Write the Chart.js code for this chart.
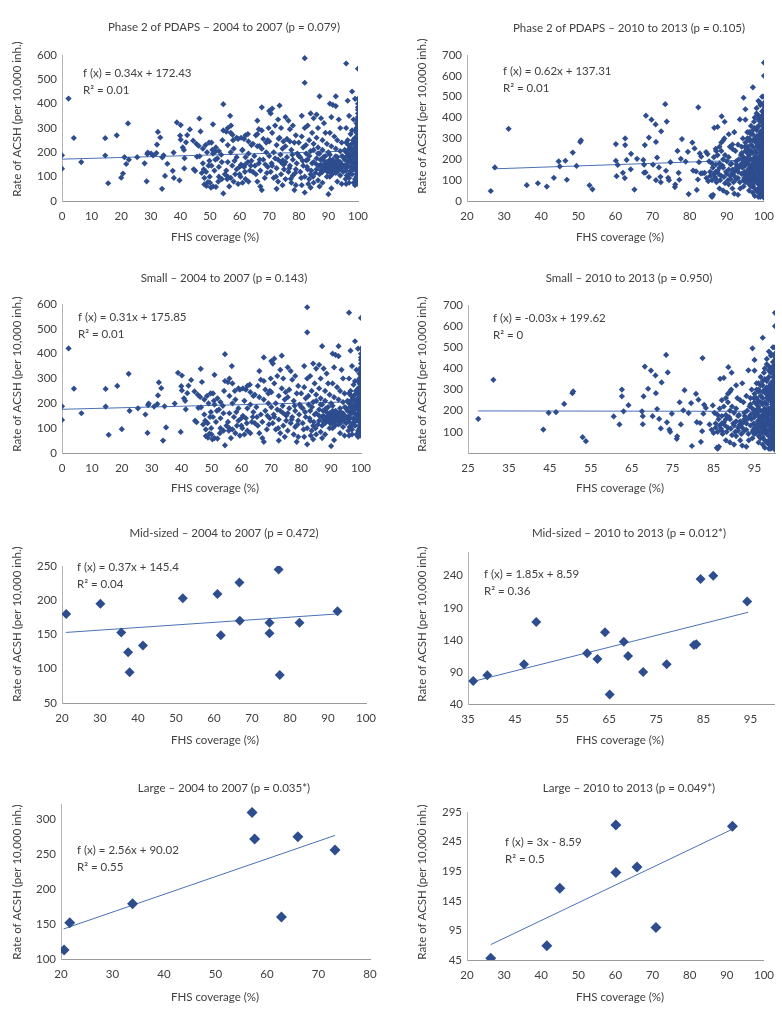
<!DOCTYPE html>
<html>
<head>
<meta charset="utf-8">
<script src="https://cdn.jsdelivr.net/npm/chart.js@4.4.0/dist/chart.umd.min.js"></script>
<style>
  body { margin: 0; background: #fff; }
  #wrap { position: relative; width: 782px; height: 1029px; }
  .panel { position: absolute; width: 391px; height: 257px; }
</style>
</head>
<body>
<div id="wrap">
  <div class="panel" style="left:0px;top:0px"><canvas id="c1" width="391" height="257"></canvas></div>
  <div class="panel" style="left:391px;top:0px"><canvas id="c2" width="391" height="257"></canvas></div>
  <div class="panel" style="left:0px;top:255px"><canvas id="c3" width="391" height="257"></canvas></div>
  <div class="panel" style="left:391px;top:255px"><canvas id="c4" width="391" height="257"></canvas></div>
  <div class="panel" style="left:0px;top:510px"><canvas id="c5" width="391" height="257"></canvas></div>
  <div class="panel" style="left:391px;top:510px"><canvas id="c6" width="391" height="257"></canvas></div>
  <div class="panel" style="left:0px;top:770px"><canvas id="c7" width="391" height="257"></canvas></div>
  <div class="panel" style="left:391px;top:770px"><canvas id="c8" width="391" height="257"></canvas></div>
</div>
<script>
// [FHS coverage %, rate of ACSH per 10,000 inh.]

// small municipalities, 2004 to 2007
const small0407 = [
  [0,188],[0,133],[2.2,421],[4,259],[6.5,160],[14.6,258],[14.6,187],[15.6,73],[18.5,270],[20,96],
  [22.3,319],[22.6,170],[25.4,180],[27.9,155],[28.6,81],[28.8,193],[29,199],[30.8,187],[31.9,197],[32.1,232],
  [32.4,284],[33.2,261],[33.8,50],[34.3,188],[34.8,103],[37.7,199],[38.8,323],[40.1,312],[39.7,85],[39.9,269],
  [40.1,252],[40.8,220],[41.2,210],[41.4,176],[41.9,241],[42.3,271],[43.2,294],[44.3,248],[44.5,130],[45,124],
  [46.4,339],[46.8,286],[45.4,235],[45.6,182],[46.5,184],[47.6,215],[47.6,155],[47.2,115],[48.1,95],[48.1,68],
  [48.8,62],[49.3,78],[49.5,145],[49,200],[48.5,230],[49.7,240],[46.2,226],[47.9,130],[49.8,165],[48.7,120],[49.9,100],
  [54.5,398],[51,315],[54.5,290],[55.5,285],[50.5,240],[52,220],[53,205],[51,195],[52.5,175],[54,160],
  [50.5,145],[53,140],[51.5,125],[53,100],[54,90],[50,75],[51,60],[52,58],[54.5,31],[55,110],
  [50.3,55],[52.8,80],[51.8,170],[53.8,190],[50.8,210],[54.2,250],
  [56.8,350],[56,300],[57,280],[59,260],[56,230],[58,215],[57,200],[59,180],[56,160],[57.5,145],
  [59,130],[56,100],[57,95],[58,80],[59.5,70],[56.5,60],[58.5,110],[60,140],[55.5,125],[57.8,250],[59.5,255],[58.3,165],[55.8,90],
  [60.5,260],[61.5,255],[63,245],[62,270],[64,230],[61,210],[63,195],[62,180],[64,165],[60.5,150],
  [61.5,140],[63.5,125],[60,110],[62,90],[63,80],[61,75],[64.5,235],[64.5,120],[62.8,275],[60.3,100],[63.8,145],[61.8,120],
  [67.5,385],[66,330],[66.5,295],[67.5,290],[65.5,270],[68,255],[69,240],[66,225],[67.5,215],[69,200],
  [65,185],[68,170],[66.5,155],[69.5,140],[67,125],[65.5,110],[68.5,95],[66,80],[67,60],[67.5,45],
  [69.5,250],[69.8,300],[68.7,150],[65.2,145],[69.2,115],[70,370],
  [71,380],[70.5,360],[73.5,392],[73,335],[72,310],[74,300],[71,280],[73.5,260],[70,245],[72.5,230],
  [74.5,215],[71.5,200],[70,185],[73,170],[74,160],[71,145],[72.5,135],[70.5,120],[74,110],[71.5,95],
  [73,80],[74.5,65],[72.5,50],[75,150],[75,130],[72,175],[70.8,155],[73.8,190],[72.3,100],[74.8,245],
  [75.5,345],[76.5,330],[78,310],[77,295],[79,270],[76,255],[78.5,240],[75.5,225],[77.5,210],[79.5,195],
  [76,180],[78,170],[75.5,160],[77,145],[79,130],[76.5,120],[78,105],[75.5,90],[77.5,75],[79,65],
  [78.5,45],[80,185],[80,240],[76.8,135],[79.3,155],[78.8,115],[77.8,190],
  [82,587],[82,486],[81,350],[84,360],[85,340],[83,310],[82,300],[84.5,280],[81,265],[83.5,250],
  [85,235],[81.5,220],[84,205],[82.5,195],[80.5,180],[83,170],[84.5,155],[81.5,145],[83,130],[80.5,120],
  [84,110],[82,100],[83.5,90],[85,75],[81,65],[84,55],[82,35],[85,160],[80.8,95],[82.8,140],
  [84.2,125],[83.6,185],[81.3,165],[85,210],[82.4,230],[84.8,100],[83.2,70],
  [87,430],[86,355],[87.5,340],[88.5,320],[86.5,300],[89,280],[86,260],[88,250],[89.5,235],[86.5,220],
  [88,210],[87,195],[89,185],[86,175],[88.5,165],[87.5,150],[89,140],[86,130],[88,120],[87,110],
  [89.5,100],[86.5,85],[88,75],[87,60],[90,200],[90,155],[90,130],[88.8,130],[87.8,135],[89.2,150],
  [86.8,145],[89.7,120],[88.3,180],[85.6,115],[87.3,170],
  [86,150],[86.5,195],[87.5,125],[88.5,145],[89.5,160],[88,140],
  [90.5,400],[91.5,395],[92.5,390],[92.5,430],[91,345],[93.5,335],[94,300],[90.5,280],[92,265],[93,250],
  [94.5,240],[91,225],[92.5,215],[94,205],[90.5,190],[93,180],[91.5,170],[94,160],[92,150],[90.5,140],
  [93.5,130],[91,125],[92.5,115],[94,105],[90.5,100],[93,80],[94.5,70],[91,52],[90,28],[95,120],
  [95,145],[95,180],[91.8,135],[90.8,160],[92.8,140],[93.7,150],[91.3,110],[92.2,125],[94.3,130],[90.2,120],
  [91.6,145],[93.2,165],[94.6,185],
  [90.5,170],[91.5,130],[92.5,160],[93.5,145],[94.5,150],[90,145],[91,150],[92,135],[93,120],[94,140],
  [96,565],[100,544],[98,450],[99,420],[100,420],[96.5,412],[100,385],[97,350],[100,345],[98.5,335],
  [99.5,320],[96,300],[98,290],[100,285],[97.5,275],[99,260],[96.5,250],[100,245],[98,235],[99.5,225],
  [97,215],[100,205],[96,200],[98.5,195],[99.5,190],[97,180],[100,175],[96.5,165],[98,160],[99,155],
  [100,150],[97.5,140],[99,130],[96,125],[100,120],[98,110],[99.5,100],[97,95],[100,85],[98.5,75],
  [96,70],[99,65],[100,100],[100,110],[100,130],[100,140],[100,170],[100,190],[100,215],[100,230],
  [100,260],[100,270],[100,300],[100,310],[100,330],[100,360],[100,400],[100,80],[97,75],[99,200],
  [99,240],[99.5,280],[98.8,180],[97.8,210],[98.3,250],[96.8,230],[95.5,140],[96.2,105],[97.3,120],[99.3,145],
  [98.6,130],[99.7,160],[100,70],[99.8,115],[97.6,165],[96.3,185],[95.8,90],
  [100,95],[100,105],[100,125],[100,135],[100,145],[100,160],[100,165],[100,180],[100,185],[100,195],
  [100,200],[100,210],[100,220],[100,225],[100,240],[100,250],[100,255],[100,280],[100,290],[100,320],
  [100,340],[100,375],[99.5,110],[99.5,135],[99.5,170],[99.5,210],[99.5,250],[99.5,300],[99,90],[99,175],
  [99,220],[99,290],[98.5,150],[98.5,215],[98,130],[98,180],[97.5,190],[97.5,230],[97,110],[97,160],
  [96.5,140],[96.5,200],[96,150],[96,240],[95.5,170],[95.5,210]
];

// mid-sized municipalities, 2004 to 2007
const mid0407 = [
  [21.1,180],[30.1,195],[35.6,153],[37.4,124],[37.8,95],[41.3,134],[51.8,203],[60.9,209],[61.8,149],
  [66.7,226],[66.8,170],[74.6,167],[74.6,152],[77,245],[77.3,91],[82.5,167],[92.5,184]
];

// large municipalities, 2004 to 2007
const large0407 = [
  [20.6,113],[21.7,152],[33.9,179],[57.1,310],[57.6,272],[62.8,160],[66,275],[73.2,256]
];

// small municipalities, 2010 to 2013
const small1013 = [
  [27.5,161],[31.2,346],[43.4,111],[44.7,190],[46.5,193],[48.5,232],[50.5,283],[50.7,291],[53,75],[53.8,56],
  [60.6,173],[62,135],[62.6,300],[62.6,268],[63,197],[64.2,226],[67.5,197],[67.7,174],[67.7,136],[67.9,268],
  [68.2,409],[69,304],[69.7,390],[70.1,174],[70.8,367],[70.9,283],[71.2,208],[71.7,161],[72.1,116],[72.3,334],
  [73.4,464],[73.8,381],[73.6,145],[74.2,111],[74.4,100],[74.8,186],[76,67],[76.1,79],[76.7,240],[77,135],
  [77.9,297],[77.6,202],[78.9,189],[79.5,236],[79.7,33],[80.7,280],[80.9,146],[81.3,252],[81.7,142],[81.9,53],
  [82.3,449],[82.2,103],[82.7,228],[82.5,186],[83.1,213],
  [84,135],[84.5,110],[85,95],[85.8,25],[86,20],[86.3,30],[86,180],[87,175],[87.5,355],[88,260],
  [88.5,280],[89,290],[89.3,300],[88.5,240],[87.5,220],[86.5,210],[89,200],[88,160],[87.5,145],[86.5,130],
  [88.5,120],[87,105],[89.5,85],[88,60],[89,50],[88.6,406],[89.4,380],[86.6,351],[85.5,140],[86.8,115],
  [87.8,130],[88.8,170],[89.8,140],[85.2,190],[84.8,225],[86.2,160],[87.2,90],[88.2,100],[89.2,115],
  [85.5,120],[86,100],[87,140],[88,180],[89,160],[89.5,220],[87,250],
  [92,330],[90.5,320],[93,270],[91.5,250],[94,230],[90.5,210],[92.5,190],[91,175],[93.5,165],[90.5,150],
  [92,140],[94,130],[91,120],[92.5,105],[93.5,90],[90.5,80],[94.5,70],[92,35],[93,30],[90,40],
  [91.5,60],[94.5,495],[95,440],[95,390],[95,280],[95,240],[95,200],[95,170],[95,120],[95,90],
  [93.5,391],[91.2,180],[93.2,200],[94.2,160],[92.8,150],[91.8,90],[90.3,100],[94.7,110],[93.8,220],[92.3,240],
  [94.3,300],[90.8,260],[93.6,60],[91.4,135],[92.6,175],
  [90,130],[90,190],[91,105],[91.5,150],[92,120],[92.5,160],[93,140],[93,110],
  [97,545],[100,600],[100,663],[98.5,480],[99.5,500],[99,460],[98,445],[100,420],[97.5,400],[99,380],
  [96.5,360],[98,340],[100,330],[97,320],[99,300],[96,290],[100,280],[98.5,270],[97,260],[99.5,250],
  [96.5,240],[98,230],[100,220],[97.5,210],[99,200],[96,195],[100,185],[98,175],[96.5,170],[99.5,160],
  [97,150],[100,145],[98.5,140],[96,130],[99,125],[97.5,115],[100,110],[98,100],[96.5,95],[99.5,85],
  [97,75],[100,70],[98.5,60],[96,50],[99,40],[100,30],[97.5,25],[98.5,20],[100,310],[100,350],
  [100,370],[99.5,390],[98.5,410],[99.5,430],[100,455],[99,470],[100,240],[100,255],[99,265],[100,190],
  [100,205],[100,130],[100,120],[100,90],[99,80],[100,55],[100,45],[97,180],[98,165],[96,155],
  [97,135],[96,105],[97,120],[96,220],[95.5,260],[96,300],[95.5,230],[95.8,210],[95.8,150],[98.5,190],
  [97.3,200],[99.2,175],[99.3,230],[97.8,280],[98.8,320],[99.8,140],[99.8,100],[99.8,60],[98.2,350],[97.3,380],
  [100,15],[100,25],[100,40],[100,65],[100,80],[100,100],[100,115],[100,135],[100,150],[100,160],
  [100,170],[100,175],[100,195],[100,200],[100,210],[100,230],[100,250],[100,265],[100,290],[100,300],
  [100,320],[100,340],[100,360],[100,380],[100,400],[100,440],[100,470],[100,500],
  [99.5,30],[99.5,55],[99.5,75],[99.5,110],[99.5,130],[99.5,150],[99.5,180],[99.5,200],[99.5,220],[99.5,270],
  [99.5,290],[99.5,310],[99.5,340],[99.5,360],[99.5,410],
  [99,20],[99,60],[99,100],[99,145],[99,185],[99,215],[99,245],[99,285],[99,330],[99,400],
  [98.5,40],[98.5,80],[98.5,110],[98.5,160],[98.5,210],[98.5,250],[98.5,300],[98.5,360],[98.5,390],
  [98,50],[98,90],[98,130],[98,150],[98,200],[98,260],[98,290],[98,310],[98,420],
  [97.5,60],[97.5,95],[97.5,140],[97.5,170],[97.5,190],[97.5,240],[97.5,300],[97.5,350],
  [97,40],[97,100],[97,165],[97,230],[97,290],[97,340],
  [96.5,70],[96.5,120],[96.5,145],[96.5,200],[96.5,270],[96.5,320],
  [96,80],[96,115],[96,175],[96,245],[96,330],
  [95.5,100],[95.5,130],[95.5,180],[95.5,300],[95.5,330],
  [94.8,140],[94.8,190],[94.8,260],[94.5,100],[94.5,210],[94,180],[94,260]
];

// mid-sized municipalities, 2010 to 2013
const mid1013 = [
  [36.1,76],[39.1,85],[46.9,102],[49.5,168],[60.3,119],[62.5,110],[64.1,152],[65.1,55],[68.1,137],
  [69,115],[72.2,90],[77.2,102],[83,132],[83.5,133],[84.4,235],[87.1,240],[94.3,200]
];

// large municipalities, 2010 to 2013
const large1013 = [
  [26.4,48],[41.5,69],[45,166],[60.1,193],[60.1,273],[65.8,202],[70.9,100],[91.5,271]
];

// all phase 2 municipalities = small + mid-sized + large
const phase0407 = small0407.concat(mid0407, large0407);
const phase1013 = small1013.concat(mid1013, large1013);

// trendline end points, as drawn
const trendPhase0407 = [[0,172],[100,206]];
const trendPhase1013 = [[27,154],[100,199]];
const trendSmall0407 = [[0,176],[100,207]];
const trendSmall1013 = [[27.5,199],[100,197]];
const trendMid0407 = [[21,153],[92.5,180]];
const trendMid1013 = [[36,75],[94.5,183]];
const trendLarge0407 = [[20.5,143],[73.2,277]];
const trendLarge1013 = [[26.4,71],[91.5,266]];

// tick labels
const xTicks0to100 = [0,10,20,30,40,50,60,70,80,90,100];
const xTicks20to100 = [20,30,40,50,60,70,80,90,100];
const xTicks25to95 = [25,35,45,55,65,75,85,95];
const xTicks35to95 = [35,45,55,65,75,85,95];
const xTicks20to80 = [20,30,40,50,60,70,80];
const yTicks600 = [0,100,200,300,400,500,600];
const yTicks700 = [0,100,200,300,400,500,600,700];
const yTicks100to700 = [100,200,300,400,500,600,700];
const yTicks50to250 = [50,100,150,200,250];
const yTicks40to240 = [40,90,140,190,240];
const yTicks100to300 = [100,150,200,250,300];
const yTicks45to295 = [45,95,145,195,245,295];

const markColor = '#2E4D8F';
const lineColor = '#4A70B5';
const textColor = '#404040';
const font = 'Lato';

const panels = [
  { id: 'c1', title: 'Phase 2 of PDAPS – 2004 to 2007 (p = 0.079)', eq: 'f (x) = 0.34x + 172.43', r2: 'R² = 0.01',
    pts: phase0407, trend: trendPhase0407, xr: [0, 100], xt: xTicks0to100, yr: [0, 600], yt: yTicks600, rad: 3.1,
    area: [62, 358, 55, 201], tx: 224, ty: 27, ex: 83, ey: 73, xtx: 215, xty: 237, ytx: 17, yty: 119 },
  { id: 'c2', title: 'Phase 2 of PDAPS – 2010 to 2013 (p = 0.105)', eq: 'f (x) = 0.62x + 137.31', r2: 'R² = 0.01',
    pts: phase1013, trend: trendPhase1013, xr: [20, 100], xt: xTicks20to100, yr: [0, 700], yt: yTicks700, rad: 3.1,
    area: [76, 384, 55, 201], tx: 238, ty: 28, ex: 112, ey: 71, xtx: 229, xty: 237, ytx: 31, yty: 116 },
  { id: 'c3', title: 'Small – 2004 to 2007 (p = 0.143)', eq: 'f (x) = 0.31x + 175.85', r2: 'R² = 0.01',
    pts: small0407, trend: trendSmall0407, xr: [0, 100], xt: xTicks0to100, yr: [0, 600], yt: yTicks600, rad: 3.1,
    area: [62, 361, 49, 198], tx: 224, ty: 23, ex: 78, ey: 62, xtx: 215, xty: 233, ytx: 17, yty: 119 },
  { id: 'c4', title: 'Small – 2010 to 2013 (p = 0.950)', eq: 'f (x) = -0.03x + 199.62', r2: 'R² = 0',
    pts: small1013, trend: trendSmall1013, xr: [25, 100], xt: xTicks25to95, yr: [0, 700], yt: yTicks100to700, rad: 3.1,
    area: [77, 384, 50, 198], tx: 238, ty: 23, ex: 102, ey: 63, xtx: 229, xty: 233, ytx: 31, yty: 119 },
  { id: 'c5', title: 'Mid-sized – 2004 to 2007 (p = 0.472)', eq: 'f (x) = 0.37x + 145.4', r2: 'R² = 0.04',
    pts: mid0407, trend: trendMid0407, xr: [20, 100], xt: xTicks20to100, yr: [50, 250], yt: yTicks50to250, rad: 5,
    area: [62, 366, 56, 193], tx: 224, ty: 23, ex: 77, ey: 57, xtx: 215, xty: 230, ytx: 17, yty: 114 },
  { id: 'c6', title: 'Mid-sized – 2010 to 2013 (p = 0.012*)', eq: 'f (x) = 1.85x + 8.59', r2: 'R² = 0.36',
    pts: mid1013, trend: trendMid1013, xr: [35, 100], xt: xTicks35to95, yr: [40, 277], yt: yTicks40to240, rad: 5,
    area: [77, 383, 42, 194], tx: 238, ty: 23, ex: 93, ey: 64, xtx: 229, xty: 230, ytx: 31, yty: 114 },
  { id: 'c7', title: 'Large – 2004 to 2007 (p = 0.035*)', eq: 'f (x) = 2.56x + 90.02', r2: 'R² = 0.55',
    pts: large0407, trend: trendLarge0407, xr: [20, 80], xt: xTicks20to80, yr: [100, 322], yt: yTicks100to300, rad: 5.5,
    area: [61, 370, 34, 189], tx: 224, ty: 18, ex: 77, ey: 80, xtx: 215, xty: 227, ytx: 17, yty: 112 },
  { id: 'c8', title: 'Large – 2010 to 2013 (p = 0.049*)', eq: 'f (x) = 3x - 8.59', r2: 'R² = 0.5',
    pts: large1013, trend: trendLarge1013, xr: [20, 100], xt: xTicks20to100, yr: [45, 295], yt: yTicks45to295, rad: 5.5,
    area: [76, 383, 42, 190], tx: 238, ty: 18, ex: 114, ey: 72, xtx: 229, xty: 227, ytx: 31, yty: 112 }
];

const textPlugin = {
  id: 'panelText',
  afterDraw(chart, args, o) {
    const ctx = chart.ctx;
    ctx.save();
    ctx.fillStyle = textColor;
    ctx.font = '11.5px ' + font;
    ctx.textBaseline = 'middle';
    ctx.textAlign = 'center';
    ctx.fillText(o.title, o.tx, o.ty);
    ctx.fillText('FHS coverage (%)', o.xtx, o.xty);
    ctx.textAlign = 'left';
    ctx.fillText(o.eq, o.ex, o.ey);
    ctx.fillText(o.r2, o.ex, o.ey + 17);
    ctx.translate(o.ytx, o.yty);
    ctx.rotate(-Math.PI / 2);
    ctx.textAlign = 'center';
    ctx.fillText('Rate of ACSH (per 10,000 inh.)', 0, 0);
    ctx.restore();
  }
};

const Y_W = 50, X_H = 30;

panels.forEach(p => {
  const [left, right, top, bottom] = p.area;
  new Chart(document.getElementById(p.id), {
    type: 'scatter',
    data: {
      datasets: [{
        data: p.pts.map(d => ({ x: d[0], y: d[1] })),
        pointStyle: 'rectRot',
        pointRadius: p.rad,
        pointBorderWidth: 0,
        backgroundColor: markColor,
        order: 0
      }, {
        type: 'line',
        data: p.trend.map(d => ({ x: d[0], y: d[1] })),
        borderColor: lineColor,
        borderWidth: 1,
        pointRadius: 0,
        fill: false,
        order: 1
      }]
    },
    options: {
      responsive: false,
      animation: false,
      layout: { padding: { left: left - Y_W, right: 391 - right, top: top, bottom: 257 - bottom - X_H } },
      plugins: {
        legend: { display: false },
        tooltip: { enabled: false },
        panelText: p
      },
      scales: {
        x: {
          type: 'linear',
          min: p.xr[0], max: p.xr[1],
          afterBuildTicks: s => { s.ticks = p.xt.map(v => ({ value: v })); },
          afterFit: s => { s.height = X_H; },
          grid: { display: false, drawTicks: false },
          border: { display: true, color: '#9a9a9a', width: 1 },
          ticks: { color: textColor, font: { family: font, size: 11.5 }, padding: 8, maxRotation: 0, autoSkip: false }
        },
        y: {
          type: 'linear',
          min: p.yr[0], max: p.yr[1],
          afterBuildTicks: s => { s.ticks = p.yt.map(v => ({ value: v })); },
          afterFit: s => { s.width = Y_W; },
          grid: { display: false, drawTicks: false },
          border: { display: true, color: '#b4b4b4', width: 1 },
          ticks: { color: textColor, font: { family: font, size: 11.5 }, padding: 5, autoSkip: false }
        }
      }
    },
    plugins: [textPlugin]
  });
});
</script>
</body>
</html>
